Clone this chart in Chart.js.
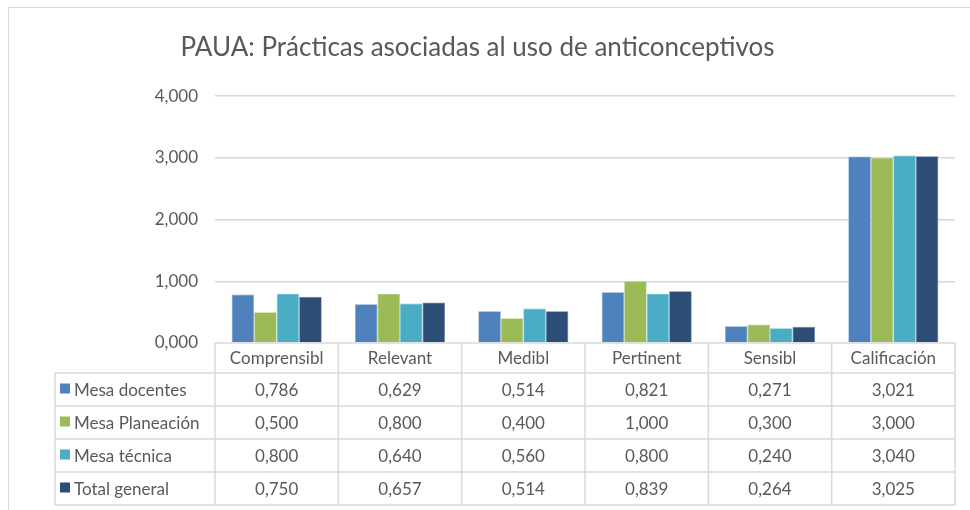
<!DOCTYPE html>
<html>
<head>
    <title>PAUA</title>
    <style>
        body {
            margin: 0;
            background: #ffffff;
            overflow: hidden;
        }

        .frame {
            position: absolute;
            left: 8px;
            top: 7px;
            width: 1000px;
            height: 600px;
            border: 1px solid #d9d9d9;
        }

        canvas {
            position: absolute;
            left: 0;
            top: 0;
        }
    </style>
    <script src="https://cdn.jsdelivr.net/npm/chart.js"></script>
</head>
<body>
    <div class="frame"></div>
    <canvas id="chart" width="970" height="510"></canvas>

    <script>
        const categories = ["Comprensibl", "Relevant", "Medibl", "Pertinent", "Sensibl", "Calificación"];
        const seriesNames = ["Mesa docentes", "Mesa Planeación", "Mesa técnica", "Total general"];
        const docentes = [0.786, 0.629, 0.514, 0.821, 0.271, 3.021];
        const planeacion = [0.500, 0.800, 0.400, 1.000, 0.300, 3.000];
        const tecnica = [0.800, 0.640, 0.560, 0.800, 0.240, 3.040];
        const total = [0.750, 0.657, 0.514, 0.839, 0.264, 3.025];
        const yTicks = [0, 1, 2, 3, 4];
        const colors = ["#4F81BD", "#9BBB59", "#4BACC6", "#2C4D75"];
        const edgeColors = ["#7FA3CE", "#B6CE88", "#7CC3D6", "#5F7B9C"];

        const textColor = "#595959";
        const lineColor = "#d9d9d9";
        const fontName = "Lato";

        function fmt(v) {
            return v.toFixed(3).replace(".", ",");
        }

        // draws the data table under the plot, using the x scale for columns
        const dataTable = {
            id: "dataTable",
            afterDraw(chart) {
                const ctx = chart.ctx;
                const area = chart.chartArea;
                const xs = chart.scales.x;
                const colW = (area.right - area.left) / categories.length;
                const headerH = 30;
                const rowH = 33;
                const tableLeft = 55;
                const top = area.bottom;
                const bodyTop = top + headerH;
                const bottom = bodyTop + rowH * seriesNames.length;

                ctx.save();
                ctx.strokeStyle = lineColor;
                ctx.lineWidth = 1.5;
                ctx.beginPath();
                // axis line / header top
                ctx.moveTo(area.left, top);
                ctx.lineTo(area.right, top);
                // horizontal lines of the body
                for (let r = 0; r <= seriesNames.length; r++) {
                    const y = bodyTop + r * rowH;
                    ctx.moveTo(tableLeft, y);
                    ctx.lineTo(area.right, y);
                }
                // vertical lines
                for (let c = 0; c <= categories.length; c++) {
                    const x = area.left + c * colW;
                    ctx.moveTo(x, top);
                    ctx.lineTo(x, bottom);
                }
                ctx.moveTo(tableLeft, bodyTop);
                ctx.lineTo(tableLeft, bottom);
                ctx.stroke();

                ctx.font = "17px " + fontName;
                ctx.fillStyle = textColor;
                ctx.textBaseline = "middle";
                ctx.textAlign = "center";
                categories.forEach(function (cat, i) {
                    ctx.fillText(cat, xs.getPixelForValue(i), top + headerH / 2 + 1);
                });

                chart.data.datasets.forEach(function (ds, r) {
                    const yMid = bodyTop + r * rowH + rowH / 2 + 1;
                    ctx.fillStyle = ds.backgroundColor;
                    ctx.fillRect(tableLeft + 5, yMid - 7, 10, 10);
                    ctx.fillStyle = textColor;
                    ctx.textAlign = "left";
                    ctx.fillText(ds.label, tableLeft + 19, yMid);
                    ctx.textAlign = "center";
                    ds.data.forEach(function (v, i) {
                        ctx.fillText(fmt(v), xs.getPixelForValue(i), yMid);
                    });
                });
                ctx.restore();
            }
        };

        const seriesData = [docentes, planeacion, tecnica, total];

        new Chart(document.getElementById("chart"), {
            type: "bar",
            data: {
                labels: categories,
                datasets: seriesData.map(function (d, i) {
                    return {
                        label: seriesNames[i],
                        data: d,
                        backgroundColor: colors[i],
                        borderColor: edgeColors[i],
                        borderWidth: 0.7,
                        barPercentage: 1,
                        categoryPercentage: 0.73
                    };
                })
            },
            options: {
                responsive: false,
                animation: false,
                layout: {
                    padding: { left: 0, right: 15, top: 0, bottom: 167 }
                },
                plugins: {
                    legend: { display: false },
                    tooltip: { enabled: false },
                    title: {
                        display: true,
                        text: "PAUA: Prácticas asociadas al uso de anticonceptivos",
                        color: textColor,
                        font: { family: fontName, size: 26, weight: "normal" },
                        padding: { top: 32, bottom: 33 }
                    }
                },
                scales: {
                    x: {
                        display: false
                    },
                    y: {
                        min: 0,
                        max: 4,
                        afterFit: function (scale) { scale.width = 215; },
                        afterBuildTicks: function (scale) {
                            scale.ticks = yTicks.map(function (v) { return { value: v }; });
                        },
                        border: { display: false },
                        grid: {
                            color: function (c) { return c.tick.value === 0 ? "rgba(0,0,0,0)" : lineColor; },
                            lineWidth: 1.5,
                            drawTicks: false
                        },
                        ticks: {
                            color: textColor,
                            padding: 17,
                            font: { family: fontName, size: 17 },
                            callback: function (v) { return fmt(v); }
                        }
                    }
                }
            },
            plugins: [dataTable]
        });
    </script>
</body>
</html>
